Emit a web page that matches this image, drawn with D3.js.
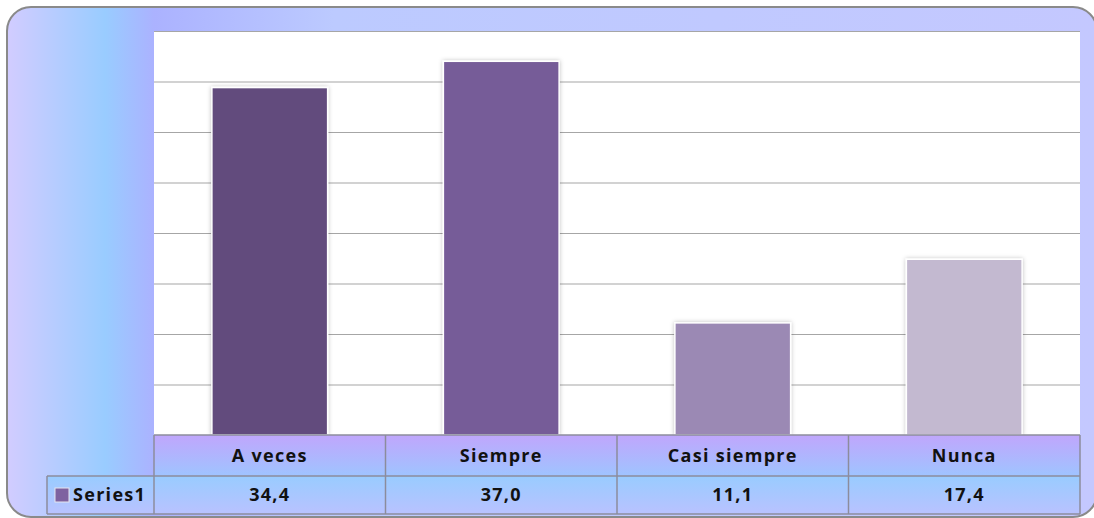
<!DOCTYPE html>
<html>
<head>
<meta charset="utf-8">
<script src="https://cdn.jsdelivr.net/npm/d3@7"></script>
<style>
  body { margin: 0; background: #fff; }
  svg { display: block; }
  text { font-family: "Open Sans", Lato, sans-serif; font-weight: bold; fill: #111; letter-spacing: 1.3px; }
</style>
</head>
<body>
<div id="chart"></div>
<script>
// data ------------------------------------------------------------------
var categories = ["A veces", "Siempre", "Casi siempre", "Nunca"];
var values = [34.4, 37.0, 11.1, 17.4];
var valueLabels = ["34,4", "37,0", "11,1", "17,4"];
var seriesName = "Series1";
var barColors = ["#624c7d", "#765c98", "#9b89b4", "#c3b9d0"];
var yTicks = [0, 5, 10, 15, 20, 25, 30, 35, 40];

// layout ----------------------------------------------------------------
var width = 1094, height = 518;
var plot = {left: 154, right: 1080, top: 31, bottom: 435};
var rowH1 = 41, rowH2 = 38, legendLeft = 47;

var svg = d3.select("#chart").append("svg")
  .attr("width", width)
  .attr("height", height);

var defs = svg.append("defs");

var bg = defs.append("linearGradient").attr("id", "bg")
  .attr("x1", 0).attr("x2", 1).attr("y1", 0).attr("y2", 0);
[[0, "#d2ccff"], [0.09, "#99ccff"], [0.135, "#abb2ff"], [0.3, "#bccaff"], [1, "#c4c8ff"]]
  .forEach(function(s){ bg.append("stop").attr("offset", s[0]).attr("stop-color", s[1]); });

var head = defs.append("linearGradient").attr("id", "head")
  .attr("x1", 0).attr("x2", 0).attr("y1", 0).attr("y2", 1);
[[0, "#c0a6fc"], [1, "#9fc4ff"]]
  .forEach(function(s){ head.append("stop").attr("offset", s[0]).attr("stop-color", s[1]); });

var row = defs.append("linearGradient").attr("id", "row")
  .attr("x1", 0).attr("x2", 0).attr("y1", 0).attr("y2", 1);
[[0, "#99ccff"], [1, "#b9c2ff"]]
  .forEach(function(s){ row.append("stop").attr("offset", s[0]).attr("stop-color", s[1]); });

var shadow = defs.append("filter").attr("id", "shadow")
  .attr("x", "-10%").attr("y", "-10%").attr("width", "120%").attr("height", "120%");
shadow.append("feDropShadow")
  .attr("dx", 0).attr("dy", 0).attr("stdDeviation", 2)
  .attr("flood-color", "#000").attr("flood-opacity", 0.25);

// outer frame
svg.append("rect")
  .attr("x", 7).attr("y", 7)
  .attr("width", 1090).attr("height", 510)
  .attr("rx", 24).attr("ry", 24)
  .attr("fill", "url(#bg)")
  .attr("stroke", "#8a8a8a")
  .attr("stroke-width", 2);

// plot area
svg.append("rect")
  .attr("x", plot.left).attr("y", plot.top)
  .attr("width", plot.right - plot.left).attr("height", plot.bottom - plot.top)
  .attr("fill", "#fff");

var x = d3.scaleBand()
  .domain(categories)
  .range([plot.left, plot.right])
  .paddingInner(0.5)
  .paddingOuter(0.25);

var y = d3.scaleLinear()
  .domain([0, 40])
  .range([plot.bottom, plot.top]);

// gridlines
svg.append("g")
  .attr("transform", "translate(" + plot.left + ",0)")
  .call(d3.axisLeft(y).tickValues(yTicks).tickSize(-(plot.right - plot.left)).tickFormat(""))
  .call(function(g){
    g.select(".domain").remove();
    g.selectAll(".tick line").attr("stroke", "#a6a6a6").attr("stroke-width", 1.2);
  });

// bars
svg.append("g").selectAll("rect")
  .data(values)
  .enter()
  .append("rect")
    .attr("x", function(d, i){ return x(categories[i]); })
    .attr("y", function(d){ return y(d); })
    .attr("width", x.bandwidth())
    .attr("height", function(d){ return y(0) - y(d); })
    .attr("fill", function(d, i){ return barColors[i]; })
    .attr("stroke", "#fff")
    .attr("stroke-width", 1.5)
    .attr("filter", "url(#shadow)");

// data table
var step = x.step();
var colX = function(i){ return plot.left + i * step; };
var table = svg.append("g");

table.append("rect")
  .attr("x", plot.left).attr("y", plot.bottom)
  .attr("width", plot.right - plot.left).attr("height", rowH1)
  .attr("fill", "url(#head)");

table.append("rect")
  .attr("x", legendLeft).attr("y", plot.bottom + rowH1)
  .attr("width", plot.right - legendLeft).attr("height", rowH2)
  .attr("fill", "url(#row)");

var lineColor = "#8c8c9c";
function hline(x1, x2, yy){
  table.append("line").attr("x1", x1).attr("x2", x2).attr("y1", yy).attr("y2", yy)
    .attr("stroke", lineColor).attr("stroke-width", 1.5);
}
function vline(xx, y1, y2){
  table.append("line").attr("x1", xx).attr("x2", xx).attr("y1", y1).attr("y2", y2)
    .attr("stroke", lineColor).attr("stroke-width", 1.5);
}
hline(plot.left, plot.right, plot.bottom);
hline(legendLeft, plot.right, plot.bottom + rowH1);
hline(legendLeft, plot.right, plot.bottom + rowH1 + rowH2);
vline(legendLeft, plot.bottom + rowH1, plot.bottom + rowH1 + rowH2);
for (var i = 0; i <= categories.length; i++) {
  vline(colX(i), plot.bottom, plot.bottom + rowH1 + rowH2);
}

table.selectAll(".cat")
  .data(categories)
  .enter()
  .append("text")
    .attr("class", "cat")
    .attr("x", function(d, i){ return colX(i) + step / 2; })
    .attr("y", plot.bottom + rowH1 / 2)
    .attr("dy", "0.36em")
    .attr("text-anchor", "middle")
    .attr("font-size", "18px")
    .text(function(d){ return d; });

table.selectAll(".val")
  .data(valueLabels)
  .enter()
  .append("text")
    .attr("class", "val")
    .attr("x", function(d, i){ return colX(i) + step / 2; })
    .attr("y", plot.bottom + rowH1 + rowH2 / 2)
    .attr("dy", "0.36em")
    .attr("text-anchor", "middle")
    .attr("font-size", "18px")
    .text(function(d){ return d; });

// legend key
table.append("rect")
  .attr("x", 55).attr("y", plot.bottom + rowH1 + rowH2 / 2 - 7)
  .attr("width", 14).attr("height", 14)
  .attr("fill", "#7e62a0")
  .attr("stroke", "#e6e6f0").attr("stroke-width", 1);

table.append("text")
  .attr("x", 73)
  .attr("y", plot.bottom + rowH1 + rowH2 / 2)
  .attr("dy", "0.36em")
  .attr("font-size", "18px")
  .text(seriesName);
</script>
</body>
</html>
